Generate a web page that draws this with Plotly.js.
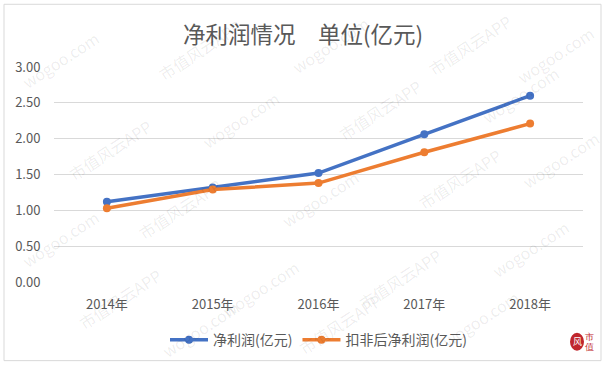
<!DOCTYPE html>
<html>
<head>
<meta charset="utf-8">
<script src="https://cdn.plot.ly/plotly-3.0.1.min.js"></script>
<style>html,body{margin:0;padding:0;background:#fff}#chart{width:606px;height:367px}</style>
</head>
<body>
<div id="chart"></div>
<script>
const categories = ['2014年', '2015年', '2016年', '2017年', '2018年'];
const netProfit = [1.12, 1.32, 1.52, 2.06, 2.60];
const netProfitExcl = [1.03, 1.29, 1.38, 1.81, 2.21];
const seriesNames = ['净利润(亿元)', '扣非后净利润(亿元)'];
const yTicks = [0, 0.5, 1, 1.5, 2, 2.5, 3];
const yTickLabels = ['0.00', '0.50', '1.00', '1.50', '2.00', '2.50', '3.00'];

const FONT = '"Noto Sans CJK SC", "Noto Sans", sans-serif';

const traces = [
  {x: categories, y: netProfit, name: seriesNames[0], type: 'scatter', mode: 'lines+markers',
   line: {color: '#4472C4', width: 3.5}, marker: {color: '#4472C4', size: 8}},
  {x: categories, y: netProfitExcl, name: seriesNames[1], type: 'scatter', mode: 'lines+markers',
   line: {color: '#ED7D31', width: 3.5}, marker: {color: '#ED7D31', size: 8}}
];

// watermark annotations (decorative), pixel centres
const wmSpots = [
  [60, 60, 1], [200, 50, 0], [330, 45, 1], [470, 45, 0], [555, 55, 1],
  [110, 150, 0], [240, 120, 1], [380, 110, 0], [520, 95, 1],
  [60, 240, 1], [180, 210, 0], [320, 200, 1], [460, 180, 0], [560, 160, 1],
  [120, 300, 0], [260, 290, 1], [400, 280, 0], [530, 250, 1],
  [200, 330, 1], [340, 325, 0], [480, 320, 1]
];
const wmTexts = ['市值风云APP', 'wogoo.com'];
const wm = wmSpots.map(s => ({xref: 'paper', yref: 'paper', x: (s[0] - 54) / 529, y: (283 - s[1]) / 216,
  xanchor: 'center', yanchor: 'middle',
  text: wmTexts[s[2]], showarrow: false, textangle: -33,
  font: {family: FONT, size: 16, color: 'rgba(0,0,0,0.08)'}}));
wm.push({xref: 'paper', yref: 'paper', x: (589 - 54) / 529, y: (283 - 338) / 216, xanchor: 'center', yanchor: 'middle',
  text: '市', showarrow: false, font: {family: 'serif', size: 9, color: '#c0262d'}});
wm.push({xref: 'paper', yref: 'paper', x: (589 - 54) / 529, y: (283 - 348) / 216, xanchor: 'center', yanchor: 'middle',
  text: '值', showarrow: false, font: {family: 'serif', size: 9, color: '#c0262d'}});
wm.push({xref: 'paper', yref: 'paper', x: (577 - 54) / 529, y: (283 - 343) / 216, xanchor: 'center', yanchor: 'middle',
  text: '风', showarrow: false, font: {family: FONT, size: 9, color: '#fff'}});

const layout = {
  width: 606, height: 367,
  margin: {l: 54, r: 23, t: 67, b: 84},
  paper_bgcolor: '#ffffff', plot_bgcolor: '#ffffff',
  font: {family: FONT, color: '#595959', size: 13},
  title: {text: '净利润情况　单位(亿元)', x: 0.5, xanchor: 'center', y: 0.905, yanchor: 'middle',
    font: {family: FONT, size: 22.5, color: '#595959'}},
  showlegend: true,
  legend: {orientation: 'h', x: 0.5, xanchor: 'center', y: -0.265, yanchor: 'middle',
    font: {family: FONT, size: 14, color: '#595959'}, itemwidth: 38, traceorder: 'normal'},
  xaxis: {type: 'category', range: [-0.5, 4.5], showgrid: false, zeroline: false, showline: false,
    ticks: 'outside', ticklen: 10, tickcolor: 'rgba(0,0,0,0)',
    tickfont: {family: FONT, size: 13, color: '#595959'}},
  yaxis: {range: [0, 3], tickvals: yTicks, ticktext: yTickLabels, showgrid: true,
    gridcolor: '#d9d9d9', gridwidth: 1, zeroline: false, showline: false,
    ticks: 'outside', ticklen: 10, tickcolor: 'rgba(0,0,0,0)',
    tickfont: {family: FONT, size: 13, color: '#595959'}},
  shapes: [
    {type: 'rect', xref: 'paper', yref: 'paper', x0: (4 - 54) / 529, x1: (601 - 54) / 529,
      y0: (283 - 362) / 216, y1: (283 - 4) / 216, line: {color: '#d9d9d9', width: 1}, layer: 'below'},
    {type: 'circle', xref: 'paper', yref: 'paper', x0: (570 - 54) / 529, x1: (584 - 54) / 529,
      y0: (283 - 352) / 216, y1: (283 - 334) / 216, fillcolor: '#c0262d', line: {width: 0}, layer: 'below'}
  ],
  annotations: wm
};

Plotly.newPlot('chart', traces, layout, {displayModeBar: false, staticPlot: true});
</script>
</body>
</html>
